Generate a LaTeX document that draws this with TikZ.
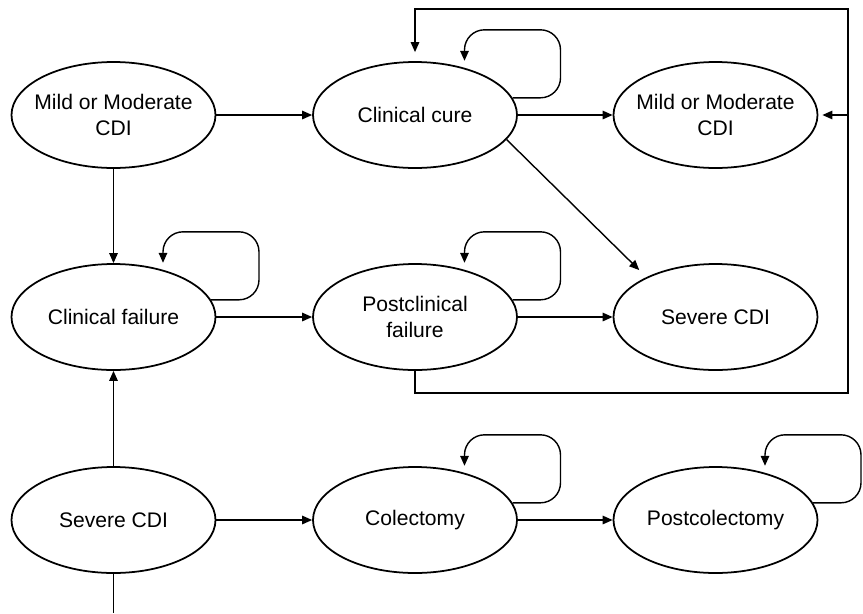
\documentclass[tikz,border=0pt]{standalone}
\usepackage{fontspec}
\setmainfont{Liberation Sans}
\usetikzlibrary{shapes.geometric,arrows.meta}

\begin{document}
\begin{tikzpicture}[%
% common options for the states:
state/.style = {ellipse, draw, line width=1pt, align=center,
            minimum width=4.08cm, minimum height=2.12cm,
            inner xsep=-0.25cm, inner ysep=0,
            font=\fontsize{12}{14.8}\selectfont},
% common options for the arrows:
>={Triangle[length=0.2cm,width=0.17cm]},
link/.style = {->, line width=0.8pt},
selfloop/.style = {->, line width=0.8pt, rounded corners=0.4cm}]
\useasboundingbox (0,0) rectangle (17.26,-12.26);
\node[state] (mild1) at (2.27,-2.30) {Mild or Moderate\\CDI};
\node[state] (cure) at (8.30,-2.30) {Clinical cure};
\node[state] (mild2) at (14.31,-2.30) {Mild or Moderate\\CDI};
\node[state] (fail) at (2.27,-6.34) {Clinical failure};
\node[state] (pcf) at (8.30,-6.34) {Postclinical\\failure};
\node[state] (sev2) at (14.31,-6.34) {Severe CDI};
\node[state] (sev1) at (2.27,-10.40) {Severe CDI};
\node[state] (col) at (8.30,-10.40) {Colectomy};
\node[state] (pcol) at (14.31,-10.40) {Postcolectomy};
\coordinate (fbB) at (16.96,-7.86);
\coordinate (fbT) at (16.96,-0.18);
\coordinate (inc) at (2.27,-12.26);
\draw[link] (mild1.east) -- (cure.west);
\draw[link] (cure.east) -- (mild2.west);
\draw[link] (fail.east) -- (pcf.west);
\draw[link] (pcf.east) -- (sev2.west);
\draw[link] (sev1.east) -- (col.west);
\draw[link] (col.east) -- (pcol.west);
\draw[link] (mild1.south) -- (fail.north);
\draw[link] (sev1.north) -- (fail.south);
\draw[line width=0.8pt] (sev1.south) -- (inc);
\draw[link,shorten >=0.2cm] (cure.-15) -- (sev2.150);
\draw[link,shorten >=0.18cm] (pcf.south) |- (fbB) -- (fbT) -| (cure.north);
\draw[link,shorten >=0.08cm] (fbT |- mild2.east) -- (mild2.east);
\draw[selfloop] (cure.10.6) -| ++(0.96,1.36) -| ++(-1.92,-0.62);
\draw[selfloop] (fail.10.6) -| ++(0.96,1.36) -| ++(-1.92,-0.62);
\draw[selfloop] (pcf.10.6) -| ++(0.96,1.36) -| ++(-1.92,-0.62);
\draw[selfloop] (col.10.6) -| ++(0.96,1.36) -| ++(-1.92,-0.62);
\draw[selfloop] (pcol.10.6) -| ++(0.96,1.36) -| ++(-1.92,-0.62);
\end{tikzpicture}
\end{document}
